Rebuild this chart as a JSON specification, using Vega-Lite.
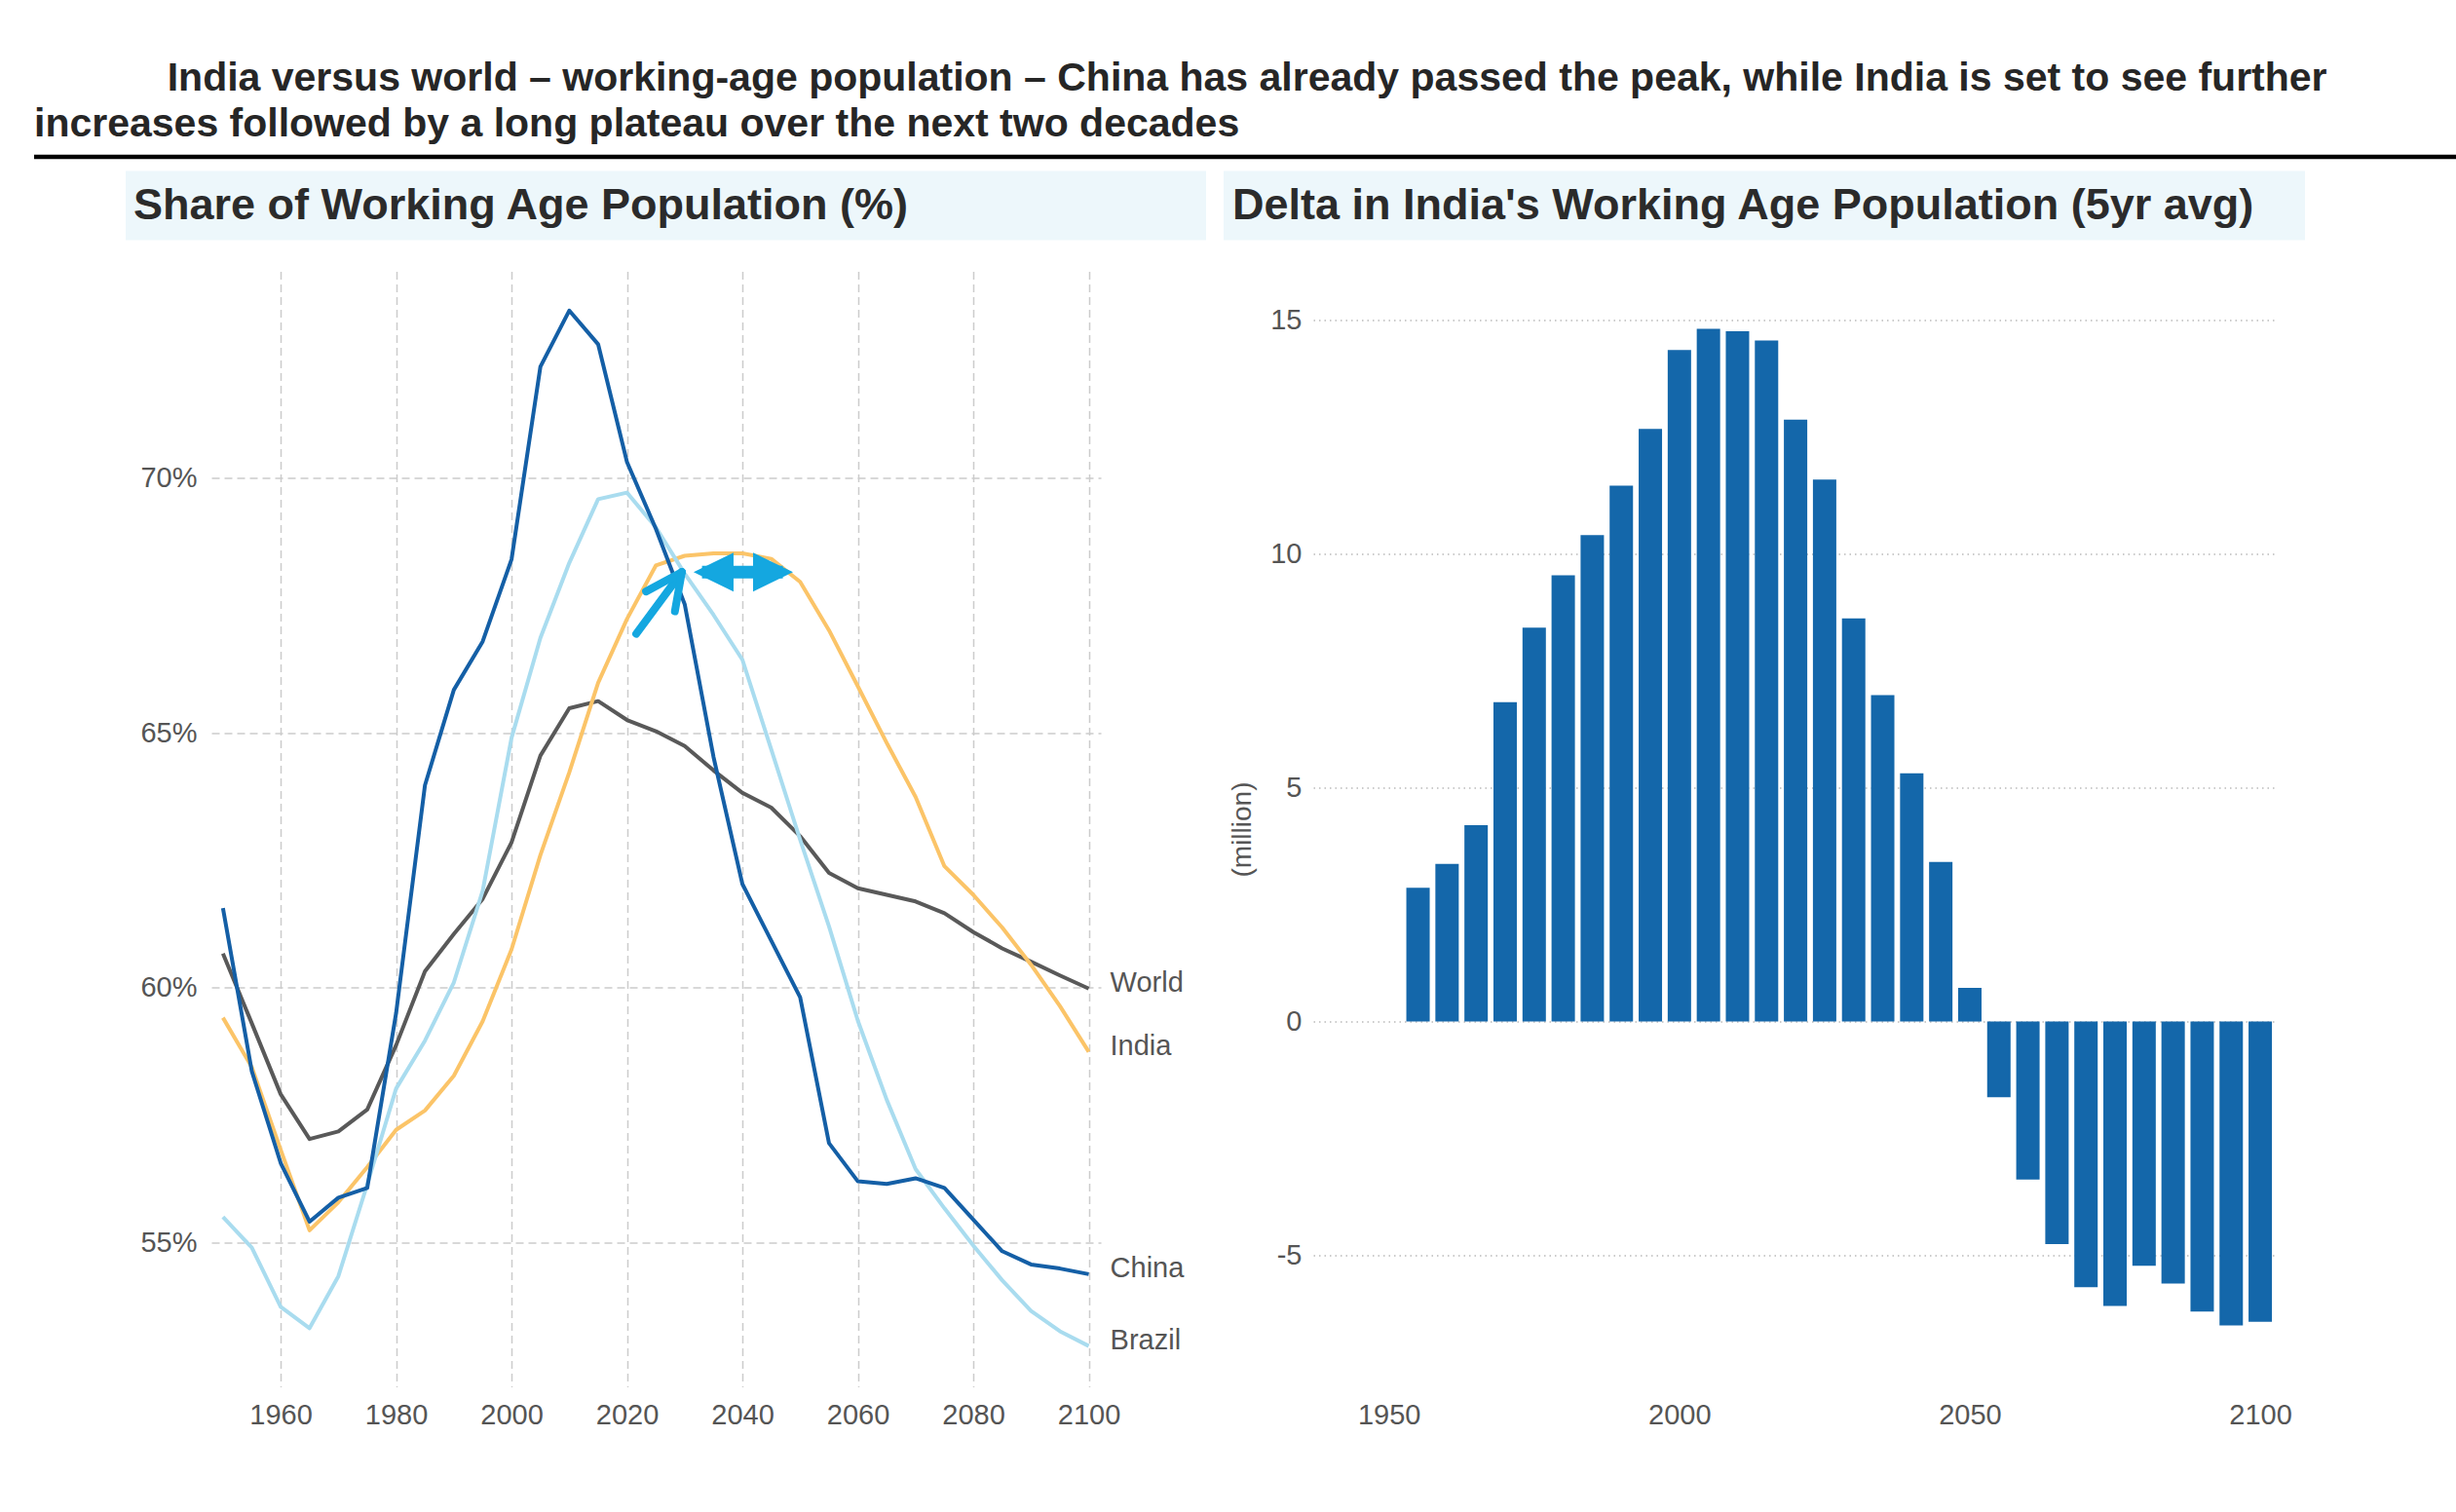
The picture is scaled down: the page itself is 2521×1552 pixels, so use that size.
{
  "$schema": "https://vega.github.io/schema/vega-lite/v6.json",
  "background": "white",
  "padding": {"left": 32, "top": 59, "right": 0, "bottom": 0},
  "config": {
    "font": "Liberation Sans",
    "view": {"stroke": null},
    "axis": {
      "domain": false,
      "ticks": false,
      "labelFont": "Liberation Sans",
      "labelFontSize": 29,
      "labelColor": "#555555",
      "labelFlush": false,
      "gridColor": "#cccccc",
      "gridWidth": 1.5,
      "title": null
    }
  },
  "bounds": "flush",
  "spacing": 14.5,
  "vconcat": [
    {
      "width": 2486,
      "height": 2,
      "title": {
        "text": [
          "\u200b\u00a0\u00a0\u00a0\u00a0\u00a0\u00a0\u00a0\u00a0\u00a0\u00a0\u00a0\u00a0India versus world \u2013 working-age population \u2013 China has already passed the peak, while India is set to see further",
          "increases followed by a long plateau over the next two decades"
        ],
        "anchor": "start",
        "frame": "group",
        "font": "Liberation Sans",
        "fontSize": 41,
        "fontWeight": "bold",
        "color": "#262626",
        "lineHeight": 47,
        "offset": 10
      },
      "data": {"values": [{"v": 0}]},
      "mark": {"type": "rule", "color": "#000000", "strokeWidth": 4.5},
      "encoding": {
        "y": {"field": "v", "type": "quantitative", "scale": {"domain": [0, 1]}, "axis": null}
      }
    },
    {
      "bounds": "flush",
      "spacing": 103,
      "vconcat": [
        {
          "bounds": "flush",
          "spacing": 18,
          "hconcat": [
            {
              "width": 76,
              "height": 71,
              "data": {"values": [{"v": 0}]},
              "mark": {"type": "point", "opacity": 0},
              "encoding": {}
            },
            {
              "width": 1109,
              "height": 71,
              "view": {"fill": "#edf7fb", "stroke": null},
              "data": {"values": [{"label": "Share of Working Age Population (%)"}]},
              "mark": {"type": "text", "align": "left", "baseline": "middle", "dx": 8, "fontSize": 45, "fontWeight": "bold", "color": "#2b2b2b"},
              "encoding": {
                "text": {"field": "label", "type": "nominal"},
                "x": {"datum": 0, "type": "quantitative", "scale": {"domain": [0, 1]}, "axis": null},
                "y": {"datum": 0.5, "type": "quantitative", "scale": {"domain": [0, 1]}, "axis": null}
              }
            },
            {
              "width": 1110,
              "height": 71,
              "view": {"fill": "#edf7fb", "stroke": null},
              "data": {"values": [{"label": "Delta in India's Working Age Population (5yr avg)"}]},
              "mark": {"type": "text", "align": "left", "baseline": "middle", "dx": 9, "fontSize": 45, "fontWeight": "bold", "color": "#2b2b2b"},
              "encoding": {
                "text": {"field": "label", "type": "nominal"},
                "x": {"datum": 0, "type": "quantitative", "scale": {"domain": [0, 1]}, "axis": null},
                "y": {"datum": 0.5, "type": "quantitative", "scale": {"domain": [0, 1]}, "axis": null}
              }
            }
          ]
        },
        {
          "bounds": "flush",
          "spacing": 0,
          "hconcat": [
            {
              "width": 182,
              "height": 1145,
              "data": {"values": [{"v": 0}]},
              "mark": {"type": "point", "opacity": 0},
              "encoding": {}
            },
            {
              "width": 913,
              "height": 1145,
              "data": {
                "values": [
                  {"country": "World", "year": 1950, "value": 60.67}, {"country": "World", "year": 1955, "value": 59.3},
                  {"country": "World", "year": 1960, "value": 57.91}, {"country": "World", "year": 1965, "value": 57.03},
                  {"country": "World", "year": 1970, "value": 57.18}, {"country": "World", "year": 1975, "value": 57.61},
                  {"country": "World", "year": 1980, "value": 58.87}, {"country": "World", "year": 1985, "value": 60.32},
                  {"country": "World", "year": 1990, "value": 61.05}, {"country": "World", "year": 1995, "value": 61.74},
                  {"country": "World", "year": 2000, "value": 62.85}, {"country": "World", "year": 2005, "value": 64.55},
                  {"country": "World", "year": 2010, "value": 65.48}, {"country": "World", "year": 2015, "value": 65.62},
                  {"country": "World", "year": 2020, "value": 65.25}, {"country": "World", "year": 2025, "value": 65.03},
                  {"country": "World", "year": 2030, "value": 64.74}, {"country": "World", "year": 2035, "value": 64.26},
                  {"country": "World", "year": 2040, "value": 63.82}, {"country": "World", "year": 2045, "value": 63.53},
                  {"country": "World", "year": 2050, "value": 62.97}, {"country": "World", "year": 2055, "value": 62.25},
                  {"country": "World", "year": 2060, "value": 61.95}, {"country": "World", "year": 2065, "value": 61.82},
                  {"country": "World", "year": 2070, "value": 61.69}, {"country": "World", "year": 2075, "value": 61.46},
                  {"country": "World", "year": 2080, "value": 61.09}, {"country": "World", "year": 2085, "value": 60.77},
                  {"country": "World", "year": 2090, "value": 60.51}, {"country": "World", "year": 2095, "value": 60.24},
                  {"country": "World", "year": 2100, "value": 59.98},
                  {"country": "India", "year": 1950, "value": 59.41}, {"country": "India", "year": 1955, "value": 58.44},
                  {"country": "India", "year": 1960, "value": 56.82}, {"country": "India", "year": 1965, "value": 55.24},
                  {"country": "India", "year": 1970, "value": 55.79}, {"country": "India", "year": 1975, "value": 56.48},
                  {"country": "India", "year": 1980, "value": 57.21}, {"country": "India", "year": 1985, "value": 57.59},
                  {"country": "India", "year": 1990, "value": 58.27}, {"country": "India", "year": 1995, "value": 59.34},
                  {"country": "India", "year": 2000, "value": 60.75}, {"country": "India", "year": 2005, "value": 62.6},
                  {"country": "India", "year": 2010, "value": 64.22}, {"country": "India", "year": 2015, "value": 65.98},
                  {"country": "India", "year": 2020, "value": 67.23}, {"country": "India", "year": 2025, "value": 68.28},
                  {"country": "India", "year": 2030, "value": 68.47}, {"country": "India", "year": 2035, "value": 68.52},
                  {"country": "India", "year": 2040, "value": 68.52}, {"country": "India", "year": 2045, "value": 68.41},
                  {"country": "India", "year": 2050, "value": 67.96}, {"country": "India", "year": 2055, "value": 67.01},
                  {"country": "India", "year": 2060, "value": 65.91}, {"country": "India", "year": 2065, "value": 64.8},
                  {"country": "India", "year": 2070, "value": 63.74}, {"country": "India", "year": 2075, "value": 62.38},
                  {"country": "India", "year": 2080, "value": 61.82}, {"country": "India", "year": 2085, "value": 61.18},
                  {"country": "India", "year": 2090, "value": 60.45}, {"country": "India", "year": 2095, "value": 59.64},
                  {"country": "India", "year": 2100, "value": 58.74},
                  {"country": "Brazil", "year": 1950, "value": 55.5}, {"country": "Brazil", "year": 1955, "value": 54.9},
                  {"country": "Brazil", "year": 1960, "value": 53.74}, {"country": "Brazil", "year": 1965, "value": 53.32},
                  {"country": "Brazil", "year": 1970, "value": 54.34}, {"country": "Brazil", "year": 1975, "value": 56.14},
                  {"country": "Brazil", "year": 1980, "value": 58.02}, {"country": "Brazil", "year": 1985, "value": 58.96},
                  {"country": "Brazil", "year": 1990, "value": 60.1}, {"country": "Brazil", "year": 1995, "value": 61.9},
                  {"country": "Brazil", "year": 2000, "value": 64.9}, {"country": "Brazil", "year": 2005, "value": 66.86},
                  {"country": "Brazil", "year": 2010, "value": 68.33}, {"country": "Brazil", "year": 2015, "value": 69.58},
                  {"country": "Brazil", "year": 2020, "value": 69.71}, {"country": "Brazil", "year": 2025, "value": 69.03},
                  {"country": "Brazil", "year": 2030, "value": 68.12}, {"country": "Brazil", "year": 2035, "value": 67.31},
                  {"country": "Brazil", "year": 2040, "value": 66.43}, {"country": "Brazil", "year": 2045, "value": 64.67},
                  {"country": "Brazil", "year": 2050, "value": 62.9}, {"country": "Brazil", "year": 2055, "value": 61.2},
                  {"country": "Brazil", "year": 2060, "value": 59.35}, {"country": "Brazil", "year": 2065, "value": 57.8},
                  {"country": "Brazil", "year": 2070, "value": 56.44}, {"country": "Brazil", "year": 2075, "value": 55.67},
                  {"country": "Brazil", "year": 2080, "value": 54.94}, {"country": "Brazil", "year": 2085, "value": 54.26},
                  {"country": "Brazil", "year": 2090, "value": 53.66}, {"country": "Brazil", "year": 2095, "value": 53.26},
                  {"country": "Brazil", "year": 2100, "value": 52.97},
                  {"country": "China", "year": 1950, "value": 61.56}, {"country": "China", "year": 1955, "value": 58.36},
                  {"country": "China", "year": 1960, "value": 56.56}, {"country": "China", "year": 1965, "value": 55.41},
                  {"country": "China", "year": 1970, "value": 55.88}, {"country": "China", "year": 1975, "value": 56.07},
                  {"country": "China", "year": 1980, "value": 59.5}, {"country": "China", "year": 1985, "value": 63.97},
                  {"country": "China", "year": 1990, "value": 65.84}, {"country": "China", "year": 1995, "value": 66.79},
                  {"country": "China", "year": 2000, "value": 68.4}, {"country": "China", "year": 2005, "value": 72.18},
                  {"country": "China", "year": 2010, "value": 73.28}, {"country": "China", "year": 2015, "value": 72.62},
                  {"country": "China", "year": 2020, "value": 70.31}, {"country": "China", "year": 2025, "value": 69.0},
                  {"country": "China", "year": 2030, "value": 67.52}, {"country": "China", "year": 2035, "value": 64.52},
                  {"country": "China", "year": 2040, "value": 62.03}, {"country": "China", "year": 2045, "value": 60.92},
                  {"country": "China", "year": 2050, "value": 59.81}, {"country": "China", "year": 2055, "value": 56.95},
                  {"country": "China", "year": 2060, "value": 56.2}, {"country": "China", "year": 2065, "value": 56.15},
                  {"country": "China", "year": 2070, "value": 56.26}, {"country": "China", "year": 2075, "value": 56.07},
                  {"country": "China", "year": 2080, "value": 55.45}, {"country": "China", "year": 2085, "value": 54.83},
                  {"country": "China", "year": 2090, "value": 54.57}, {"country": "China", "year": 2095, "value": 54.49},
                  {"country": "China", "year": 2100, "value": 54.38}
                ]
              },
              "layer": [
                {
                  "mark": {"type": "line", "strokeJoin": "round"},
                  "encoding": {
                    "x": {
                      "field": "year", "type": "quantitative",
                      "scale": {"domain": [1948, 2102.1], "nice": false, "zero": false},
                      "axis": {"values": [1960, 1980, 2000, 2020, 2040, 2060, 2080, 2100], "format": "d", "grid": true, "gridDash": [8, 5], "labelPadding": 15}
                    },
                    "y": {
                      "field": "value", "type": "quantitative",
                      "scale": {"domain": [52.17, 74.05], "nice": false, "zero": false},
                      "axis": {"values": [55, 60, 65, 70], "labelExpr": "datum.value + '%'", "grid": true, "gridDash": [8, 5], "labelPadding": 15}
                    },
                    "color": {
                      "field": "country", "type": "nominal", "legend": null,
                      "scale": {"domain": ["Brazil", "India", "World", "China"], "range": ["#a9dcef", "#fbc468", "#595959", "#145fa6"]}
                    },
                    "strokeWidth": {
                      "field": "country", "type": "nominal", "legend": null,
                      "scale": {"domain": ["Brazil", "India", "World", "China"], "range": [4, 4, 4, 5]}
                    }
                  }
                },
                {
                  "transform": [{"filter": "datum.year == 2100"}],
                  "mark": {"type": "text", "align": "left", "baseline": "middle", "dx": 22, "dy": -6, "fontSize": 29, "color": "#555555"},
                  "encoding": {
                    "x": {"field": "year", "type": "quantitative", "scale": {"domain": [1948, 2102.1], "nice": false, "zero": false}},
                    "y": {"field": "value", "type": "quantitative", "scale": {"domain": [52.17, 74.05], "nice": false, "zero": false}},
                    "text": {"field": "country", "type": "nominal"}
                  }
                },
                {
                  "data": {
                    "values": [
                      {"year": 2021.6, "value": 66.94, "year2": 2029.5, "value2": 68.15},
                      {"year": 2023.3, "value": 67.77, "year2": 2029.5, "value2": 68.15},
                      {"year": 2028.3, "value": 67.38, "year2": 2029.5, "value2": 68.15}
                    ]
                  },
                  "mark": {"type": "rule", "color": "#14a7e0", "strokeWidth": 8, "strokeCap": "round"},
                  "encoding": {
                    "x": {"field": "year", "type": "quantitative", "scale": {"domain": [1948, 2102.1], "nice": false, "zero": false}},
                    "y": {"field": "value", "type": "quantitative", "scale": {"domain": [52.17, 74.05], "nice": false, "zero": false}},
                    "x2": {"field": "year2"},
                    "y2": {"field": "value2"}
                  }
                },
                {
                  "data": {"values": [{"year": 2033, "year2": 2047, "value": 68.15}]},
                  "mark": {"type": "rule", "color": "#14a7e0", "strokeWidth": 13},
                  "encoding": {
                    "x": {"field": "year", "type": "quantitative", "scale": {"domain": [1948, 2102.1], "nice": false, "zero": false}},
                    "x2": {"field": "year2"},
                    "y": {"field": "value", "type": "quantitative", "scale": {"domain": [52.17, 74.05], "nice": false, "zero": false}}
                  }
                },
                {
                  "data": {
                    "values": [
                      {"year": 2035.0, "value": 68.15, "dir": "left"},
                      {"year": 2045.3, "value": 68.15, "dir": "right"}
                    ]
                  },
                  "mark": {"type": "point", "filled": true, "opacity": 1, "color": "#14a7e0", "size": 1681},
                  "encoding": {
                    "x": {"field": "year", "type": "quantitative", "scale": {"domain": [1948, 2102.1], "nice": false, "zero": false}},
                    "y": {"field": "value", "type": "quantitative", "scale": {"domain": [52.17, 74.05], "nice": false, "zero": false}},
                    "shape": {
                      "field": "dir", "type": "nominal", "legend": null,
                      "scale": {"domain": ["left", "right"], "range": ["M-1,0L1,-0.98L1,0.98Z", "M1,0L-1,-0.98L-1,0.98Z"]}
                    }
                  }
                }
              ]
            },
            {
              "width": 218,
              "height": 1145,
              "data": {"values": [{"v": 0}]},
              "mark": {"type": "point", "opacity": 0},
              "encoding": {}
            },
            {
              "width": 989,
              "height": 1145,
              "data": {
                "values": [
                  {"year": 1955, "delta": 2.86}, {"year": 1960, "delta": 3.37}, {"year": 1965, "delta": 4.2},
                  {"year": 1970, "delta": 6.83}, {"year": 1975, "delta": 8.42}, {"year": 1980, "delta": 9.54},
                  {"year": 1985, "delta": 10.4}, {"year": 1990, "delta": 11.46}, {"year": 1995, "delta": 12.67},
                  {"year": 2000, "delta": 14.36}, {"year": 2005, "delta": 14.81}, {"year": 2010, "delta": 14.76},
                  {"year": 2015, "delta": 14.56}, {"year": 2020, "delta": 12.87}, {"year": 2025, "delta": 11.59},
                  {"year": 2030, "delta": 8.62}, {"year": 2035, "delta": 6.98}, {"year": 2040, "delta": 5.31},
                  {"year": 2045, "delta": 3.41}, {"year": 2050, "delta": 0.72}, {"year": 2055, "delta": -1.62},
                  {"year": 2060, "delta": -3.38}, {"year": 2065, "delta": -4.76}, {"year": 2070, "delta": -5.68},
                  {"year": 2075, "delta": -6.08}, {"year": 2080, "delta": -5.22}, {"year": 2085, "delta": -5.6},
                  {"year": 2090, "delta": -6.2}, {"year": 2095, "delta": -6.5}, {"year": 2100, "delta": -6.42}
                ]
              },
              "mark": {"type": "bar", "width": 24, "color": "#1467aa"},
              "encoding": {
                "x": {
                  "field": "year", "type": "quantitative",
                  "scale": {"domain": [1937.8, 2102], "nice": false, "zero": false},
                  "axis": {"values": [1950, 2000, 2050, 2100], "format": "d", "grid": false, "labelPadding": 15}
                },
                "y": {
                  "field": "delta", "type": "quantitative",
                  "scale": {"domain": [-7.81, 16.04], "nice": false, "zero": false},
                  "axis": {
                    "values": [-5, 0, 5, 10, 15], "labelExpr": "'' + datum.value",
                    "grid": true, "gridDash": [1.5, 4], "gridColor": "#bbbbbb",
                    "labelPadding": 12,
                    "title": "(million)", "titleFont": "Liberation Sans", "titleFontSize": 28, "titleFontWeight": "normal",
                    "titleColor": "#555555", "titlePadding": 14
                  }
                }
              }
            }
          ]
        }
      ]
    }
  ]
}
